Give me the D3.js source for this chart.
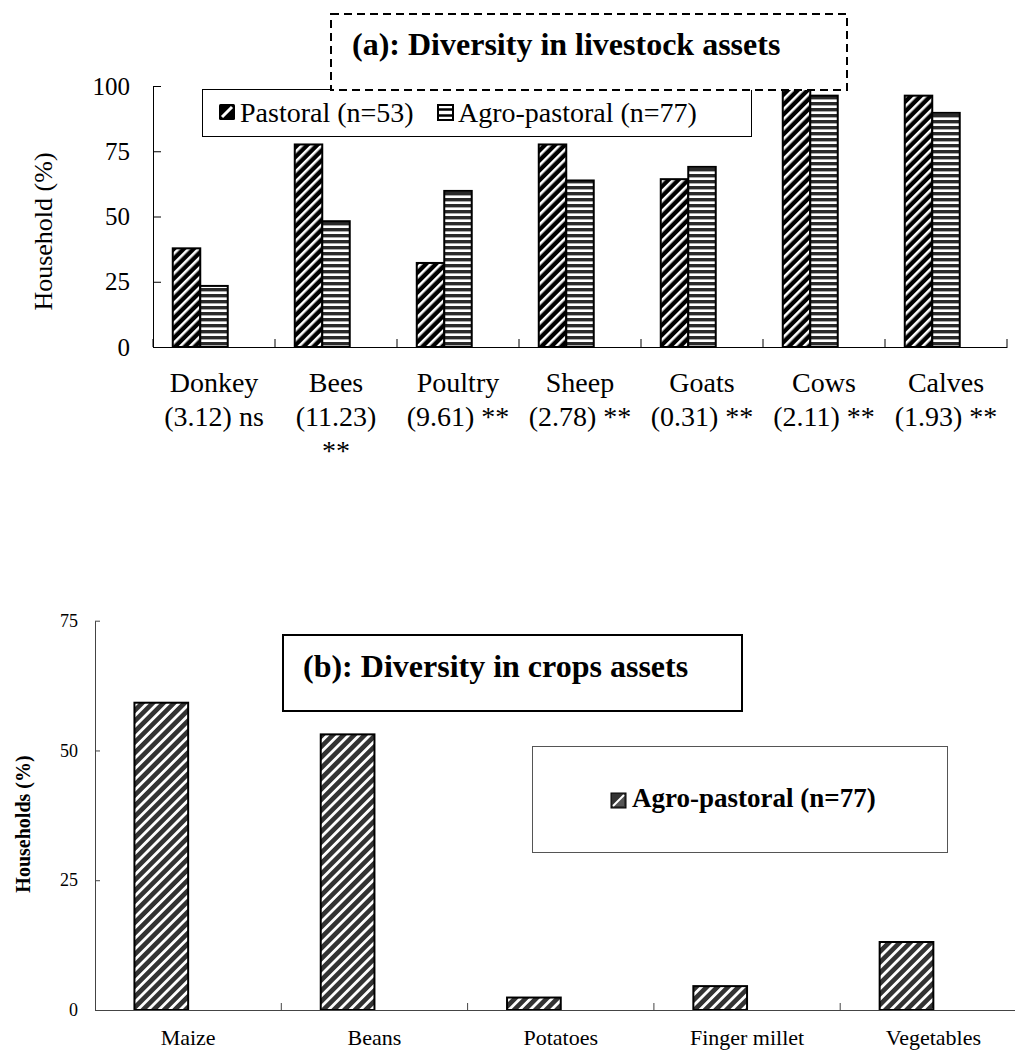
<!DOCTYPE html>
<html>
<head>
<meta charset="utf-8">
<script src="https://cdn.jsdelivr.net/npm/d3@7"></script>
<style>
  html, body { margin: 0; padding: 0; background: #fff; }
  svg { display: block; font-family: "Liberation Serif", "Times New Roman", serif; }
</style>
</head>
<body>
<svg id="chart" width="1015" height="1050"></svg>
<script>
// ---------- Data: panel (a) livestock ----------
const livestockCategories = ["Donkey", "Bees", "Poultry", "Sheep", "Goats", "Cows", "Calves"];
const livestockTickLabels = [
  ["Donkey", "(3.12) ns"],
  ["Bees", "(11.23)", "**"],
  ["Poultry", "(9.61) **"],
  ["Sheep", "(2.78) **"],
  ["Goats", "(0.31) **"],
  ["Cows", "(2.11) **"],
  ["Calves", "(1.93) **"]
];
const livestockSeriesNames = ["Pastoral (n=53)", "Agro-pastoral (n=77)"];
const pastoralValues = [37.8, 77.6, 32.2, 77.6, 64.3, 100, 96.3];
const agroPastoralValues = [23.4, 48.2, 59.8, 63.8, 69.0, 96.3, 89.7];
const livestockYTicks = [0, 25, 50, 75, 100];
const livestockTitle = "(a): Diversity in livestock assets";
const livestockYLabel = "Household (%)";

// ---------- Data: panel (b) crops ----------
const cropCategories = ["Maize", "Beans", "Potatoes", "Finger millet", "Vegetables"];
const cropSeriesName = "Agro-pastoral (n=77)";
const cropValues = [59.2, 53.1, 2.4, 4.6, 13.1];
const cropYTicks = [0, 25, 50, 75];
const cropTitle = "(b): Diversity in crops assets";
const cropYLabel = "Households (%)";

// ---------- Drawing ----------
const SERIF = '"Liberation Serif", "Times New Roman", serif';
const svg = d3.select("#chart");
const defs = svg.append("defs");

// Patterns
function diagPattern(id, bg, stripe, period, sw) {
  const p = defs.append("pattern").attr("id", id)
    .attr("patternUnits", "userSpaceOnUse")
    .attr("width", period).attr("height", period)
    .attr("patternTransform", "rotate(45)");
  p.append("rect").attr("width", period).attr("height", period).attr("fill", bg);
  p.append("rect").attr("x", 0).attr("y", 0).attr("width", sw).attr("height", period).attr("fill", stripe);
}
diagPattern("pastoralPat", "#000", "#fff", 7, 2.6);
diagPattern("cropPat", "#333", "#fff", 7.5, 2.8);
(function () {
  const p = defs.append("pattern").attr("id", "agroPat")
    .attr("patternUnits", "userSpaceOnUse")
    .attr("width", 6).attr("height", 6);
  p.append("rect").attr("width", 6).attr("height", 6).attr("fill", "#fff");
  p.append("rect").attr("x", 0).attr("y", 0).attr("width", 6).attr("height", 3.4).attr("fill", "#2a2a2a");
})();

// ===== Panel (a) =====
(function () {
  const left = 153, right = 1007, top = 86, bottom = 347;
  const slots = 3; // Excel group slots (one unused)
  const x0 = d3.scaleBand().domain(livestockCategories).range([left, right])
    .paddingInner(0.324).paddingOuter(0.162);
  const x1 = d3.scaleBand().domain(d3.range(slots)).range([0, x0.bandwidth()]);
  const y = d3.scaleLinear().domain([0, 100]).range([bottom, top]);
  const g = svg.append("g");

  const series = [
    { values: pastoralValues, fill: "url(#pastoralPat)" },
    { values: agroPastoralValues, fill: "url(#agroPat)" }
  ];
  series.forEach((s, si) => {
    g.selectAll(null).data(livestockCategories).enter().append("rect")
      .attr("x", d => x0(d) + x1(si))
      .attr("y", (d, i) => y(s.values[i]))
      .attr("width", x1.bandwidth())
      .attr("height", (d, i) => y(0) - y(s.values[i]))
      .attr("fill", s.fill)
      .attr("stroke", "#000").attr("stroke-width", 2);
  });

  // Y axis
  const yAxis = d3.axisLeft(y).tickValues(livestockYTicks).tickSizeInner(-8).tickSizeOuter(0).tickPadding(23);
  const ya = g.append("g").attr("transform", `translate(${left},0)`).call(yAxis);
  ya.attr("font-family", SERIF);
  ya.select(".domain").attr("stroke", "#000").attr("stroke-width", 1);
  ya.selectAll(".tick line").attr("stroke", "#000");
  ya.selectAll(".tick text").attr("font-size", 25).attr("fill", "#000");

  // X axis
  const xAxis = d3.axisBottom(x0).tickSize(0).tickFormat("");
  const xa = g.append("g").attr("transform", `translate(0,${bottom})`).call(xAxis);
  xa.attr("font-family", SERIF);
  xa.select(".domain").attr("stroke", "#000").attr("stroke-width", 1);
  const step = x0.step();
  const edges = d3.range(livestockCategories.length + 1).map(i => left + i * step);
  xa.selectAll(".edge").data(edges).enter().append("line")
    .attr("x1", d => d).attr("x2", d => d).attr("y1", 0).attr("y2", -8).attr("stroke", "#000");
  xa.selectAll(".tick").each(function (d, i) {
    const t = d3.select(this).append("text")
      .attr("text-anchor", "middle").attr("font-size", 28).attr("fill", "#000");
    livestockTickLabels[i].forEach((line, li) => {
      t.append("tspan").attr("x", 0).attr("y", 45 + li * 34).text(line);
    });
  });

  // Y label
  g.append("text").attr("transform", `translate(43,${(top + bottom) / 2 + 15}) rotate(-90)`)
    .attr("text-anchor", "middle").attr("dominant-baseline", "central")
    .attr("font-size", 26).attr("fill", "#000").text(livestockYLabel);

  // Legend
  g.append("rect").attr("x", 202.5).attr("y", 89.5).attr("width", 549).attr("height", 47)
    .attr("fill", "#fff").attr("stroke", "#000").attr("stroke-width", 1);
  g.append("rect").attr("x", 219).attr("y", 104).attr("width", 16).attr("height", 16).attr("rx", 1.5)
    .attr("fill", "#000");
  g.append("line").attr("x1", 222).attr("y1", 117).attr("x2", 232).attr("y2", 107)
    .attr("stroke", "#fff").attr("stroke-width", 3);
  g.append("text").attr("x", 240).attr("y", 122).attr("font-size", 28).attr("fill", "#000").text(livestockSeriesNames[0]);
  g.append("rect").attr("x", 438).attr("y", 105).attr("width", 15).attr("height", 15)
    .attr("fill", "#fff").attr("stroke", "#000").attr("stroke-width", 2);
  [109.5, 115.5].forEach(yy => g.append("line").attr("x1", 438).attr("x2", 453).attr("y1", yy).attr("y2", yy)
    .attr("stroke", "#000").attr("stroke-width", 2.5));
  g.append("text").attr("x", 458).attr("y", 122).attr("font-size", 28).attr("fill", "#000").text(livestockSeriesNames[1]);

  // Title box (dashed)
  g.append("rect").attr("x", 331).attr("y", 14).attr("width", 516).attr("height", 76)
    .attr("fill", "#fff").attr("stroke", "#000").attr("stroke-width", 2).attr("stroke-dasharray", "8,5");
  g.append("text").attr("x", 352).attr("y", 55).attr("font-size", 32).attr("font-weight", "bold")
    .attr("fill", "#000").text(livestockTitle);
})();

// ===== Panel (b) =====
(function () {
  const left = 95, top = 620.7, bottom = 1010;
  const step = 186.3;
  const right = left + step * cropCategories.length;
  const slots = 2; // Excel group slots (one unused)
  const x0 = d3.scaleBand().domain(cropCategories).range([left, right])
    .paddingInner(0.4235).paddingOuter(0.21175);
  const x1 = d3.scaleBand().domain(d3.range(slots)).range([0, x0.bandwidth()]);
  const y = d3.scaleLinear().domain([0, 75]).range([bottom, top]);
  const g = svg.append("g");

  g.selectAll(null).data(cropCategories).enter().append("rect")
    .attr("x", d => x0(d) + x1(0))
    .attr("y", (d, i) => y(cropValues[i]))
    .attr("width", x1.bandwidth())
    .attr("height", (d, i) => y(0) - y(cropValues[i]))
    .attr("fill", "url(#cropPat)")
    .attr("stroke", "#000").attr("stroke-width", 2);

  const yAxis = d3.axisLeft(y).tickValues(cropYTicks).tickSizeInner(-5).tickSizeOuter(0).tickPadding(17);
  const ya = g.append("g").attr("transform", `translate(${left},0)`).call(yAxis);
  ya.attr("font-family", SERIF);
  ya.select(".domain").attr("stroke", "#444").attr("stroke-width", 1);
  ya.selectAll(".tick line").attr("stroke", "#444");
  ya.selectAll(".tick text").attr("font-size", 18).attr("fill", "#000");

  const xAxis = d3.axisBottom(x0).tickSize(0).tickPadding(0);
  const xa = g.append("g").attr("transform", `translate(0,${bottom})`).call(xAxis);
  xa.attr("font-family", SERIF);
  xa.select(".domain").attr("stroke", "#444").attr("stroke-width", 1);
  xa.selectAll(".tick text").attr("font-size", 22)
    .attr("fill", "#000").attr("dy", null).attr("y", 35);
  const edges = d3.range(1, cropCategories.length).map(i => left + i * step);
  xa.selectAll(".edge").data(edges).enter().append("line")
    .attr("x1", d => d).attr("x2", d => d).attr("y1", 0).attr("y2", -7).attr("stroke", "#444");

  g.append("text").attr("transform", `translate(23,824) rotate(-90)`)
    .attr("text-anchor", "middle").attr("dominant-baseline", "central")
    .attr("font-size", 20).attr("font-weight", "bold").attr("fill", "#000").text(cropYLabel);

  // Title box
  g.append("rect").attr("x", 283).attr("y", 635).attr("width", 459).attr("height", 76)
    .attr("fill", "#fff").attr("stroke", "#000").attr("stroke-width", 2);
  g.append("text").attr("x", 303).attr("y", 677).attr("font-size", 32).attr("font-weight", "bold")
    .attr("fill", "#000").text(cropTitle);

  // Legend
  g.append("rect").attr("x", 532.5).attr("y", 746.5).attr("width", 415).attr("height", 106)
    .attr("fill", "#fff").attr("stroke", "#555").attr("stroke-width", 1);
  g.append("rect").attr("x", 611).attr("y", 793).attr("width", 15).attr("height", 15)
    .attr("fill", "#333").attr("stroke", "#000").attr("stroke-width", 1);
  g.append("path").attr("d", "M613,806 L624,795 L624,806 Z").attr("fill", "#555");
  g.append("line").attr("x1", 613).attr("y1", 806).attr("x2", 624).attr("y2", 795)
    .attr("stroke", "#fff").attr("stroke-width", 2);
  g.append("text").attr("x", 632).attr("y", 807).attr("font-size", 27).attr("font-weight", "bold")
    .attr("fill", "#000").text(cropSeriesName);
})();
</script>
</body>
</html>
